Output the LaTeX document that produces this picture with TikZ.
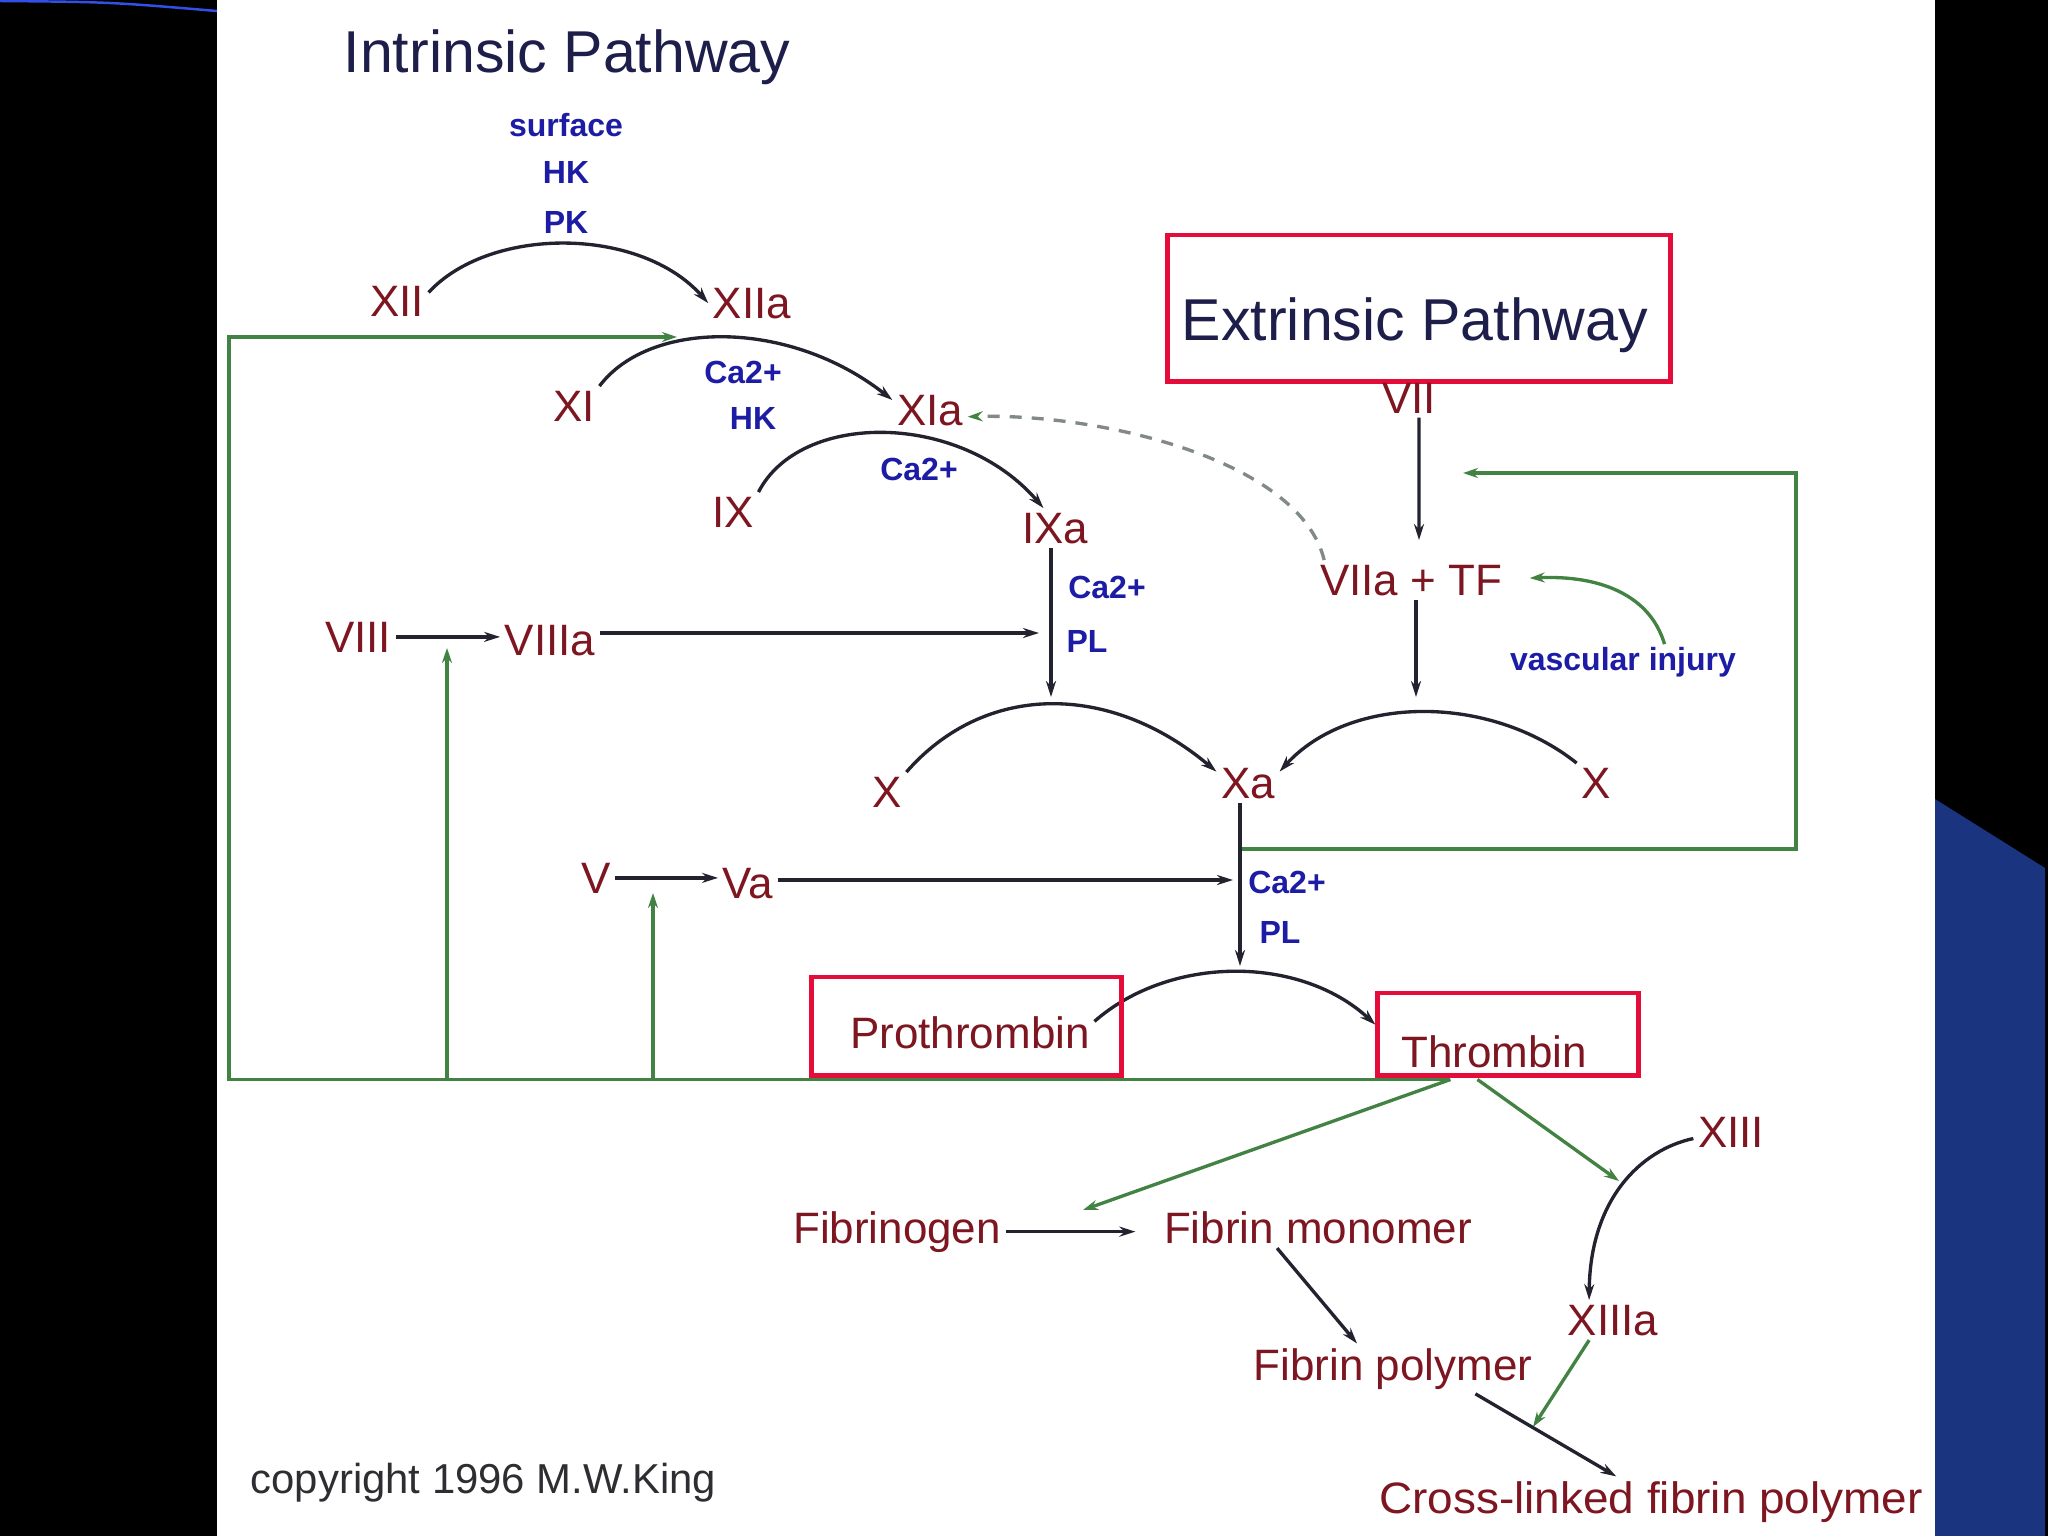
\documentclass[tikz,border=0pt]{standalone}
\usepackage{fontspec}
\setmainfont{Liberation Sans}
\usepackage{graphicx}
\usetikzlibrary{arrows.meta,calc}
\definecolor{fred}{RGB}{125,22,32}
\definecolor{fblue}{RGB}{28,28,165}
\definecolor{fnavy}{RGB}{30,30,75}
\definecolor{fgreen}{RGB}{66,130,66}
\definecolor{fline}{RGB}{35,35,48}
\definecolor{fbox}{RGB}{230,12,58}
\definecolor{fgray}{RGB}{45,45,50}
\definecolor{slideblue}{RGB}{27,52,128}
\definecolor{topline}{RGB}{50,80,230}
\definecolor{dashc}{RGB}{130,138,132}
\pgfdeclarelayer{bg}
\pgfsetlayers{bg,main}
\tikzset{
 lbl/.style={text=fred, font=\fontsize{12.5}{15}\selectfont, inner sep=0.04cm, anchor=base},
 cof/.style={text=fblue, font=\bfseries\fontsize{9.1}{11}\selectfont, inner sep=0.02cm, anchor=base},
 ttl/.style={text=fnavy, font=\fontsize{16.8}{20}\selectfont, inner sep=0pt, anchor=base},
 rbox/.style={draw=fbox, line width=1.4pt, inner sep=0pt},
 bk/.style={draw=fline, line width=0.95pt, -{Stealth[length=0.16cm,width=0.1cm]}},
 gk/.style={draw=fgreen, line width=0.95pt, -{Stealth[length=0.15cm,width=0.1cm]}},
 dsh/.style={draw=dashc, line width=0.95pt, dash pattern=on 0.12cm off 0.1cm, -{Stealth[length=0.15cm,width=0.1cm,color=fgreen]}},
}
\begin{document}
\begin{tikzpicture}[x=0.01cm,y=-0.01cm]
\useasboundingbox (0,0) rectangle (2048,1536);
% titles and boxes
\node[ttl] (intr) at (567,72) {Intrinsic Pathway};
\node[ttl] (extr) at (1415,340) {Extrinsic Pathway};
\node[rbox, minimum width=5.02cm, minimum height=1.46cm] (extbox) at (1419,308) {};
\node[rbox, minimum width=3.09cm, minimum height=0.98cm] (probox) at (966.5,1026) {};
\node[rbox, minimum width=2.60cm, minimum height=0.82cm] (thrbox) at (1508,1034) {};
% cofactors
\node[cof] (surf) at (566,136) {surface};
\node[cof] (hk1) at (566,183) {HK};
\node[cof] (pk) at (566,233) {PK};
\node[cof] (ca1) at (743,383) {Ca2+};
\node[cof] (hk2) at (753,429) {HK};
\node[cof] (ca2) at (919,480) {Ca2+};
\node[cof] (ca3) at (1107,598) {Ca2+};
\node[cof] (pl1) at (1087,652) {PL};
\node[cof] (ca4) at (1287,893) {Ca2+};
\node[cof] (pl2) at (1280,943) {PL};
\node[cof] (vasc) at (1623,670) {vascular injury};
% factors
\node[lbl] (XII) at (397,316) {XII};
\node[lbl] (XIIa) at (752,318) {XIIa};
\node[lbl] (XI) at (574,421) {XI};
\node[lbl] (XIa) at (930,425) {XIa};
\node[lbl] (IX) at (733,527) {IX};
\node[lbl] (IXa) at (1055,543) {IXa};
\node[lbl] (VIII) at (358,652) {VIII};
\node[lbl] (VIIIa) at (550,655) {VIIIa};
\node[lbl] (X1) at (887,807) {X};
\node[lbl] (Xa) at (1248,798) {Xa};
\node[lbl] (X2) at (1596,798) {X};
\node[lbl] (VII) at (1409,413) {VII};
\node[lbl] (VIIa) at (1411,595) {VIIa + TF};
\node[lbl] (V) at (596,893) {V};
\node[lbl] (Va) at (748,898) {Va};
\node[lbl] (Pro) at (970,1048) {Prothrombin};
\node[lbl] (Thr) at (1494,1067) {Thrombin};
\node[lbl] (XIII) at (1731,1147) {XIII};
\node[lbl] (Fbg) at (897,1243) {Fibrinogen};
\node[lbl] (Fmono) at (1318,1243) {Fibrin monomer};
\node[lbl] (XIIIa) at (1613,1335) {XIIIa};
\node[lbl] (Fpoly) at (1393,1380) {Fibrin polymer};
\node[lbl] (xfp) at (1651,1513) {\scalebox{1.045}[1]{Cross-linked fibrin polymer}};
\node[anchor=base west, text=fgray, font=\fontsize{11.9}{14}\selectfont, inner sep=0pt] (copy) at (250,1493) {copyright 1996 M.W.King};
% free ends
\coordinate (c1) at (1051,697);
\coordinate (c2) at (1416,697);
\coordinate (c3) at (1039,633);
\coordinate (c4) at (1240,966);
\coordinate (c5) at (1233,880);
\coordinate (g1) at (677,337);
\coordinate (gl) at (229,337);
\coordinate (g2) at (447,648);
\coordinate (g3) at (653,893);
\coordinate (g4) at (1083,1210);
\coordinate (g5) at (1619,1181);
\coordinate (g6) at (1533,1427);
\coordinate (g7) at (1241,849);
\coordinate (rc) at (1796,849);
\coordinate (g8) at (1463,473);
\coordinate (t0) at ($(thrbox.south west)+(75,2)$);
\coordinate (t1) at ($(thrbox.south west)+(102,2)$);
\begin{pgfonlayer}{bg}
\fill[black] (0,0) rectangle (2048,1536);
\fill[white] (217,0) rectangle (1935,1536);
\fill[slideblue] (1935,799) -- (2045,868) -- (2045,1536) -- (1935,1536) -- cycle;
\draw[topline, line width=0.7pt] (0,1) .. controls (110,2) .. (217,11);
% green feedback
\draw[gk] (t0) -| (gl) -- (g1);
\draw[gk] (g2 |- t0) -- (g2);
\draw[gk] (g3 |- t0) -- (g3);
\draw[gk] (t0) -- (g4);
\draw[gk] (t1) -- (g5);
\draw[gk] (g7) -- (rc) |- (g8);
\draw[gk] (vasc.23) .. controls (1650,595) and (1600,575) .. ($(VIIa.east)+(23,-2)$);
\draw[gk] (XIIIa.220) -- (g6);
\draw[dsh] (VIIa.167) .. controls (1300,460) and (1100,413) .. (XIa.-10);
% cascade
\draw[bk] (XII.15) .. controls (490,226) and (640,226) .. (XIIa.west);
\draw[bk] (XI.north east) .. controls (650,319) and (790,319) .. (XIa.165);
\draw[bk] (IX.north east) .. controls (800,411) and (960,411) .. (IXa.120);
\draw[bk] (IXa.south -| c1) -- (c1);
\draw[bk] (VIII.east) -- (VIII.east -| VIIIa.west);
\draw[bk] (VIIIa.east |- c3) -- (c3);
\draw[bk] (X1.north east) .. controls (985,682) and (1110,682) .. (Xa.160);
\draw[bk] (X2.north west) .. controls (1490,694) and (1350,694) .. (Xa.20);
\draw[bk] ([xshift=0.1cm]VII.south) -- ([xshift=0.08cm,yshift=0.2cm]VIIa.north);
\draw[bk] (VIIa.south -| c2) -- (c2);
\draw[bk] (Xa.south -| c4) -- (c4);
\draw[bk] (V.east) -- (V.east -| Va.west);
\draw[bk] (Va.east |- c5) -- (c5);
\draw[bk] (Pro.5) .. controls (1170,955) and (1300,955) .. (thrbox.176);
\draw[bk] (Fbg.east) -- ($(Fbg.east -| Fmono.west)+(-24,0)$);
\draw[bk] (Fmono.207) -- (Fpoly.145);
\draw[bk] (Fpoly.343) -- (xfp.144);
\draw[bk] (XIII.190) .. controls (1640,1150) and (1590,1200) .. (XIIIa.140);
\end{pgfonlayer}
\end{tikzpicture}
\end{document}
